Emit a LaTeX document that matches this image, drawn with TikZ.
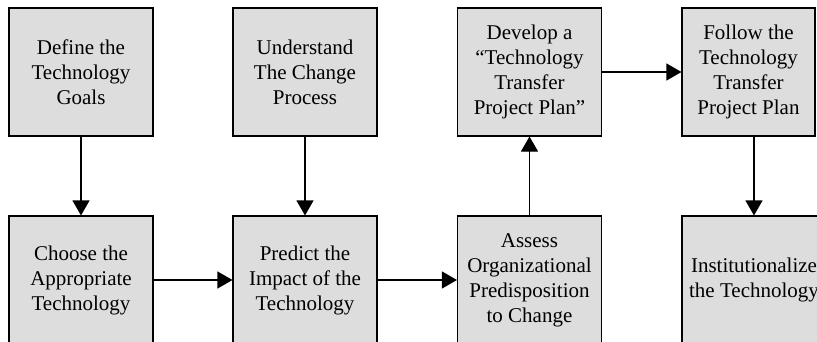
\documentclass[tikz,border=0pt]{standalone}
\usepackage{fontspec}
\setmainfont{Liberation Serif}
\usetikzlibrary{arrows.meta}
\definecolor{boxfill}{RGB}{221,221,221}
\tikzset{
  stepbox/.style={draw=black, line width=1.1pt, fill=boxfill, minimum width=144pt, minimum height=128pt,
    inner sep=0pt, align=center, font=\fontsize{21}{25}\selectfont},
  flow/.style={line width=1.1pt, -{Triangle[length=15pt,width=17pt]}}
}
\begin{document}
\begin{tikzpicture}[x=1pt,y=1pt]
\useasboundingbox (0,0) rectangle (817,341);
\node[stepbox] (define) at (81,269) {Define the\\Technology\\Goals};
\node[stepbox] (understand) at (305,269) {Understand\\The Change\\Process};
\node[stepbox] (develop) at (529.5,269) {Develop a\\``Technology\\Transfer\\Project Plan''};
\node[stepbox, minimum width=133pt] (follow) at (748.5,269) {Follow the\\Technology\\Transfer\\Project Plan};
\node[stepbox] (choose) at (81,61) {Choose the\\Appropriate\\Technology};
\node[stepbox] (predict) at (305,61) {Predict the\\Impact of the\\Technology};
\node[stepbox] (assess) at (529.5,61) {Assess\\Organizational\\Predisposition\\to Change};
\node[stepbox] (inst) at (754,61) {Institutionalize\\the Technology};
\draw[flow] (define) -- (choose);
\draw[flow] (understand) -- (predict);
\draw[flow] (choose) -- (predict);
\draw[flow] (predict) -- (assess);
\draw[flow] (assess) -- (develop);
\draw[flow] (develop) -- (follow);
\draw[flow] (follow.south -| inst.north) -- (inst.north);
\end{tikzpicture}
\end{document}
